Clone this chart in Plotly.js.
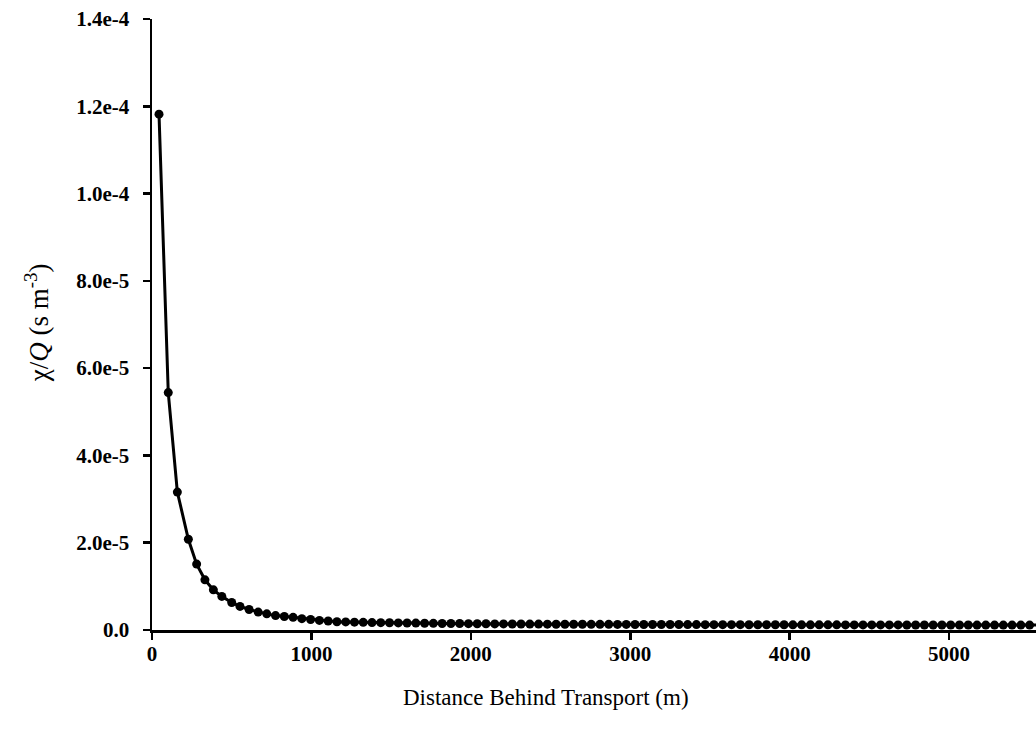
<!DOCTYPE html>
<html>
<head>
<meta charset="utf-8">
<script src="https://cdn.plot.ly/plotly-3.0.1.min.js"></script>
<style>html,body{margin:0;padding:0;background:#fff;}#chart{width:1036px;height:738px;}</style>
</head>
<body>
<div id="chart"></div>
<script>
// Distance behind transport (m)
var distance = [
  44, 102, 159, 228, 280, 332, 385, 438, 500, 552,
  609, 666, 720, 775, 830, 885, 940, 995, 1050, 1105,
  1160, 1215, 1270, 1325, 1380, 1435, 1490, 1545, 1600, 1655,
  1710, 1765, 1820, 1875, 1930, 1985, 2040, 2095, 2150, 2205,
  2260, 2315, 2370, 2425, 2480, 2535, 2590, 2645, 2700, 2755,
  2810, 2865, 2920, 2975, 3030, 3085, 3140, 3195, 3250, 3305,
  3360, 3415, 3470, 3525, 3580, 3635, 3690, 3745, 3800, 3855,
  3910, 3965, 4020, 4075, 4130, 4185, 4240, 4295, 4350, 4405,
  4460, 4515, 4570, 4625, 4680, 4735, 4790, 4845, 4900, 4955,
  5010, 5065, 5120, 5175, 5230, 5285, 5340, 5395, 5450, 5505,
  5560
];
// chi/Q (s m^-3)
var chiQ = [
  1.182e-4, 5.44e-5, 3.16e-5, 2.08e-5, 1.51e-5, 1.15e-5, 9.2e-6, 7.7e-6, 6.3e-6, 5.4e-6,
  4.7e-6, 4.1e-6, 3.7e-6, 3.3e-6, 3.1e-6, 2.9e-6, 2.6e-6, 2.4e-6, 2.2e-6, 2.05e-6,
  1.9e-6, 1.85e-6, 1.8e-6, 1.75e-6, 1.7e-6, 1.68e-6, 1.65e-6, 1.62e-6, 1.6e-6, 1.58e-6,
  1.55e-6, 1.53e-6, 1.5e-6, 1.5e-6, 1.48e-6, 1.45e-6, 1.44e-6, 1.42e-6, 1.4e-6, 1.4e-6,
  1.38e-6, 1.37e-6, 1.36e-6, 1.35e-6, 1.34e-6, 1.33e-6, 1.32e-6, 1.32e-6, 1.31e-6, 1.3e-6,
  1.3e-6, 1.29e-6, 1.28e-6, 1.28e-6, 1.27e-6, 1.27e-6, 1.26e-6, 1.26e-6, 1.25e-6, 1.25e-6,
  1.24e-6, 1.24e-6, 1.23e-6, 1.23e-6, 1.22e-6, 1.22e-6, 1.22e-6, 1.21e-6, 1.21e-6, 1.2e-6,
  1.2e-6, 1.2e-6, 1.19e-6, 1.19e-6, 1.19e-6, 1.18e-6, 1.18e-6, 1.18e-6, 1.17e-6, 1.17e-6,
  1.17e-6, 1.16e-6, 1.16e-6, 1.16e-6, 1.16e-6, 1.15e-6, 1.15e-6, 1.15e-6, 1.15e-6, 1.14e-6,
  1.14e-6, 1.14e-6, 1.14e-6, 1.13e-6, 1.13e-6, 1.13e-6, 1.13e-6, 1.12e-6, 1.12e-6, 1.12e-6,
  1.12e-6
];
var xTickVals = [0, 1000, 2000, 3000, 4000, 5000];
var xTickText = ['0', '1000', '2000', '3000', '4000', '5000'];
var yTickVals = [0, 2e-5, 4e-5, 6e-5, 8e-5, 1.0e-4, 1.2e-4, 1.4e-4];
var yTickText = ['0.0', '2.0e-5', '4.0e-5', '6.0e-5', '8.0e-5', '1.0e-4', '1.2e-4', '1.4e-4'];
var xTitle = 'Distance Behind Transport (m)';
var yTitle = '\u03c7/<i>Q</i> (s m<sup>-3</sup>)';

var serif = '"Liberation Serif", "Times New Roman", serif';
var tickFont = {family: serif, size: 21, color: '#000', weight: 'bold'};

var trace = {
  x: distance, y: chiQ, type: 'scatter', mode: 'lines+markers',
  line: {color: '#000', width: 3},
  marker: {color: '#000', size: 9},
  cliponaxis: false, hoverinfo: 'none'
};

var layout = {
  width: 1036, height: 738,
  margin: {l: 152, r: 0, t: 19, b: 108},
  paper_bgcolor: '#fff', plot_bgcolor: '#fff',
  showlegend: false,
  xaxis: {
    range: [0, 5545], showgrid: false, zeroline: false,
    showline: true, linecolor: '#000', linewidth: 2.5,
    ticks: 'outside', ticklen: 7, tickwidth: 2.5, tickcolor: '#000',
    tickmode: 'array', tickvals: xTickVals, ticktext: xTickText,
    tickfont: tickFont, ticklabelstandoff: -4, automargin: false
  },
  yaxis: {
    range: [0, 1.4e-4], showgrid: false, zeroline: false,
    showline: true, linecolor: '#000', linewidth: 2.5,
    ticks: 'outside', ticklen: 7, tickwidth: 2.5, tickcolor: '#000',
    tickmode: 'array', tickvals: yTickVals, ticktext: yTickText,
    tickfont: tickFont, ticklabelstandoff: 9, automargin: false
  },
  annotations: [
    {text: xTitle, xref: 'paper', yref: 'paper', x: 0.446, y: 0, yshift: -67,
     xanchor: 'center', yanchor: 'middle', showarrow: false,
     font: {family: serif, size: 23, color: '#000'}},
    {text: yTitle, xref: 'paper', yref: 'paper', x: 0, xshift: -115, y: 0.502,
     xanchor: 'center', yanchor: 'middle', showarrow: false, textangle: -90,
     font: {family: serif, size: 27, color: '#000'}}
  ]
};

Plotly.newPlot('chart', [trace], layout, {staticPlot: true, displayModeBar: false});
</script>
</body>
</html>
